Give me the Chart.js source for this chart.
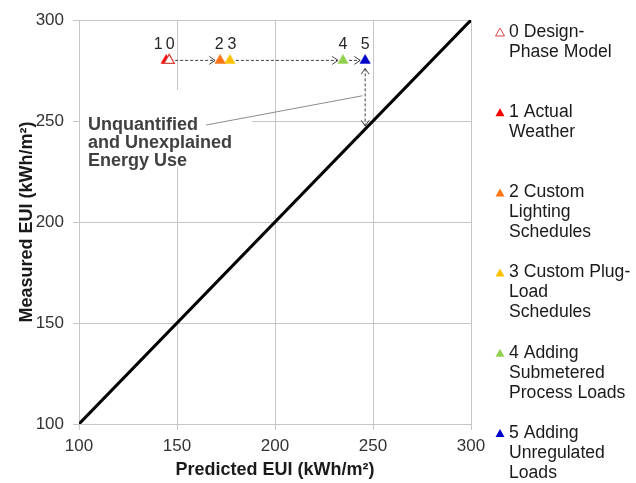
<!DOCTYPE html>
<html>
<head>
<meta charset="utf-8">
<script src="https://cdn.jsdelivr.net/npm/chart.js@4.4.1/dist/chart.umd.min.js"></script>
<style>
  html, body { margin: 0; padding: 0; background: #fff; }
  #wrap { width: 636px; height: 483px; }
</style>
</head>
<body>
<div id="wrap"><canvas id="eui" width="636" height="483"></canvas></div>
<script>
// values
const stepLabels = ['0', '1', '2', '3', '4', '5'];
const legendText = [
    ['0 Design-', 'Phase Model'],
    ['1 Actual', 'Weather'],
    ['2 Custom', 'Lighting', 'Schedules'],
    ['3 Custom Plug-', 'Load', 'Schedules'],
    ['4 Adding', 'Submetered', 'Process Loads'],
    ['5 Adding', 'Unregulated', 'Loads']
];
const predictedEUI = [146, 144.5, 172, 177, 234.7, 246];
const measuredEUI = [280, 280, 280, 280, 280, 280];
const stepColors = ['#d9463f', '#ff0000', '#ff7415', '#ffc000', '#92d050', '#0000cc'];
const diagX = [100, 300];
const diagY = [100, 300];
const axisTicks = [100, 150, 200, 250, 300];
const noteLines = ['Unquantified', 'and Unexplained', 'Energy Use'];

const FONT = "'Liberation Sans', Arial, sans-serif";
const GRID = '#c6c6c6';

const datasets = stepLabels.map((lab, i) => ({
    label: legendText[i].join(' '),
    data: [{ x: predictedEUI[i], y: measuredEUI[i] }],
    pointStyle: 'triangle',
    pointRadius: 6,
    pointHoverRadius: 6,
    pointBackgroundColor: i === 0 ? '#ffffff' : stepColors[i],
    pointBorderColor: stepColors[i],
    pointBorderWidth: i === 0 ? 1.3 : 0.5
}));
datasets.push({
    label: 'diag',
    data: diagX.map((x, i) => ({ x: x, y: diagY[i] })),
    showLine: true,
    borderColor: '#000',
    borderWidth: 3,
    pointRadius: 0
});

function arrowHead(ctx, x, y, dir) {
    // open chevron, dir in radians (direction the arrow points)
    const len = 7, spread = 0.6;
    ctx.setLineDash([]);
    ctx.beginPath();
    ctx.moveTo(x - len * Math.cos(dir - spread), y - len * Math.sin(dir - spread));
    ctx.lineTo(x, y);
    ctx.lineTo(x - len * Math.cos(dir + spread), y - len * Math.sin(dir + spread));
    ctx.stroke();
}

function dashed(ctx, x1, y1, x2, y2) {
    ctx.setLineDash([3, 2]);
    ctx.beginPath();
    ctx.moveTo(x1, y1);
    ctx.lineTo(x2, y2);
    ctx.stroke();
}

const annotPlugin = {
    id: 'annot',
    beforeDatasetsDraw(chart) {
        const ctx = chart.ctx, xs = chart.scales.x, ys = chart.scales.y;
        ctx.save();
        // white box behind the note
        const bx1 = xs.getPixelForValue(100) + 1, bx2 = xs.getPixelForValue(188.3);
        const by1 = ys.getPixelForValue(265.3), by2 = ys.getPixelForValue(227.2);
        ctx.fillStyle = '#fff';
        ctx.fillRect(bx1, by1, bx2 - bx1, by2 - by1);
        // leader line
        ctx.strokeStyle = '#8c8c8c';
        ctx.lineWidth = 1;
        ctx.beginPath();
        ctx.moveTo(xs.getPixelForValue(164.8), ys.getPixelForValue(248));
        ctx.lineTo(xs.getPixelForValue(244.6), ys.getPixelForValue(262.5));
        ctx.stroke();
        // note text
        ctx.fillStyle = '#404040';
        ctx.font = 'bold 18px ' + FONT;
        ctx.textBaseline = 'middle';
        ctx.textAlign = 'left';
        const tx = xs.getPixelForValue(104.6), ty = ys.getPixelForValue(248);
        noteLines.forEach((t, k) => ctx.fillText(t, tx, ty + k * 18));
        ctx.restore();
    },
    afterDatasetsDraw(chart) {
        const ctx = chart.ctx, xs = chart.scales.x, ys = chart.scales.y;
        const px = predictedEUI.map(v => xs.getPixelForValue(v));
        const py = measuredEUI.map(v => ys.getPixelForValue(v));
        ctx.save();
        ctx.strokeStyle = '#404040';
        ctx.lineWidth = 1;
        // horizontal step arrows
        [[0, 2], [3, 4], [4, 5]].forEach(([a, b]) => {
            const x1 = px[a] + 6, x2 = px[b] - 5, y = py[a];
            dashed(ctx, x1, y, x2, y);
            arrowHead(ctx, x2, y, 0);
        });
        // vertical gap arrow down to the 1:1 line
        const vx = px[5];
        const yTop = py[5] + 8;
        const yBot = ys.getPixelForValue(predictedEUI[5]) - 3;
        dashed(ctx, vx, yTop, vx, yBot);
        arrowHead(ctx, vx, yTop, -Math.PI / 2);
        arrowHead(ctx, vx, yBot, Math.PI / 2);
        // step numbers above the markers
        const labelDx = [1, -8, -1, 2, 0, 0];
        ctx.fillStyle = '#262626';
        ctx.font = '16px ' + FONT;
        ctx.textAlign = 'center';
        ctx.textBaseline = 'middle';
        stepLabels.forEach((t, i) => ctx.fillText(t, px[i] + labelDx[i], py[i] - 16));
        ctx.restore();
    },
    afterDraw(chart) {
        const ctx = chart.ctx, area = chart.chartArea;
        ctx.save();
        ctx.font = '17.6px ' + FONT;
        ctx.textBaseline = 'middle';
        ctx.textAlign = 'left';
        legendText.forEach((lines, i) => {
            const y0 = area.top + 12 + i * 80.2;
            const mx = area.right + 29;
            ctx.beginPath();
            ctx.moveTo(mx, y0 - 4);
            ctx.lineTo(mx + 4.5, y0 + 4);
            ctx.lineTo(mx - 4.5, y0 + 4);
            ctx.closePath();
            if (i === 0) {
                ctx.fillStyle = '#fff';
                ctx.fill();
                ctx.strokeStyle = stepColors[i];
                ctx.lineWidth = 1;
                ctx.stroke();
            } else {
                ctx.fillStyle = stepColors[i];
                ctx.fill();
            }
            ctx.fillStyle = '#1a1a1a';
            lines.forEach((t, k) => ctx.fillText(t, area.right + 38, y0 + k * 20));
        });
        ctx.restore();
    }
};

new Chart(document.getElementById('eui'), {
    type: 'scatter',
    data: { datasets: datasets },
    options: {
        responsive: false,
        animation: false,
        devicePixelRatio: 1,
        layout: { padding: { top: 20, right: 165, left: 0, bottom: 0 } },
        plugins: { legend: { display: false }, tooltip: { enabled: false } },
        scales: {
            x: {
                type: 'linear', min: axisTicks[0], max: axisTicks[axisTicks.length - 1],
                afterBuildTicks: s => { s.ticks = axisTicks.map(v => ({ value: v })); },
                afterFit: s => { s.height = 59; },
                ticks: { color: '#333333', font: { family: FONT, size: 17 }, padding: 6 },
                grid: { color: GRID, tickLength: 6, tickColor: GRID },
                border: { color: GRID },
                title: { display: true, text: 'Predicted EUI (kWh/m²)', color: '#1a1a1a',
                    font: { family: FONT, size: 18, weight: 'bold' }, padding: { top: 0, bottom: 2 } }
            },
            y: {
                type: 'linear', min: axisTicks[0], max: axisTicks[axisTicks.length - 1],
                afterBuildTicks: s => { s.ticks = axisTicks.map(v => ({ value: v })); },
                afterFit: s => { s.width = 79; },
                ticks: { color: '#333333', font: { family: FONT, size: 17 }, padding: 9 },
                grid: { color: GRID, tickLength: 6, tickColor: GRID },
                border: { color: GRID },
                title: { display: true, text: 'Measured EUI (kWh/m²)', color: '#1a1a1a',
                    font: { family: FONT, size: 18, weight: 'bold' }, padding: { top: 16, bottom: 0 } }
            }
        }
    },
    plugins: [annotPlugin]
});
</script>
</body>
</html>
